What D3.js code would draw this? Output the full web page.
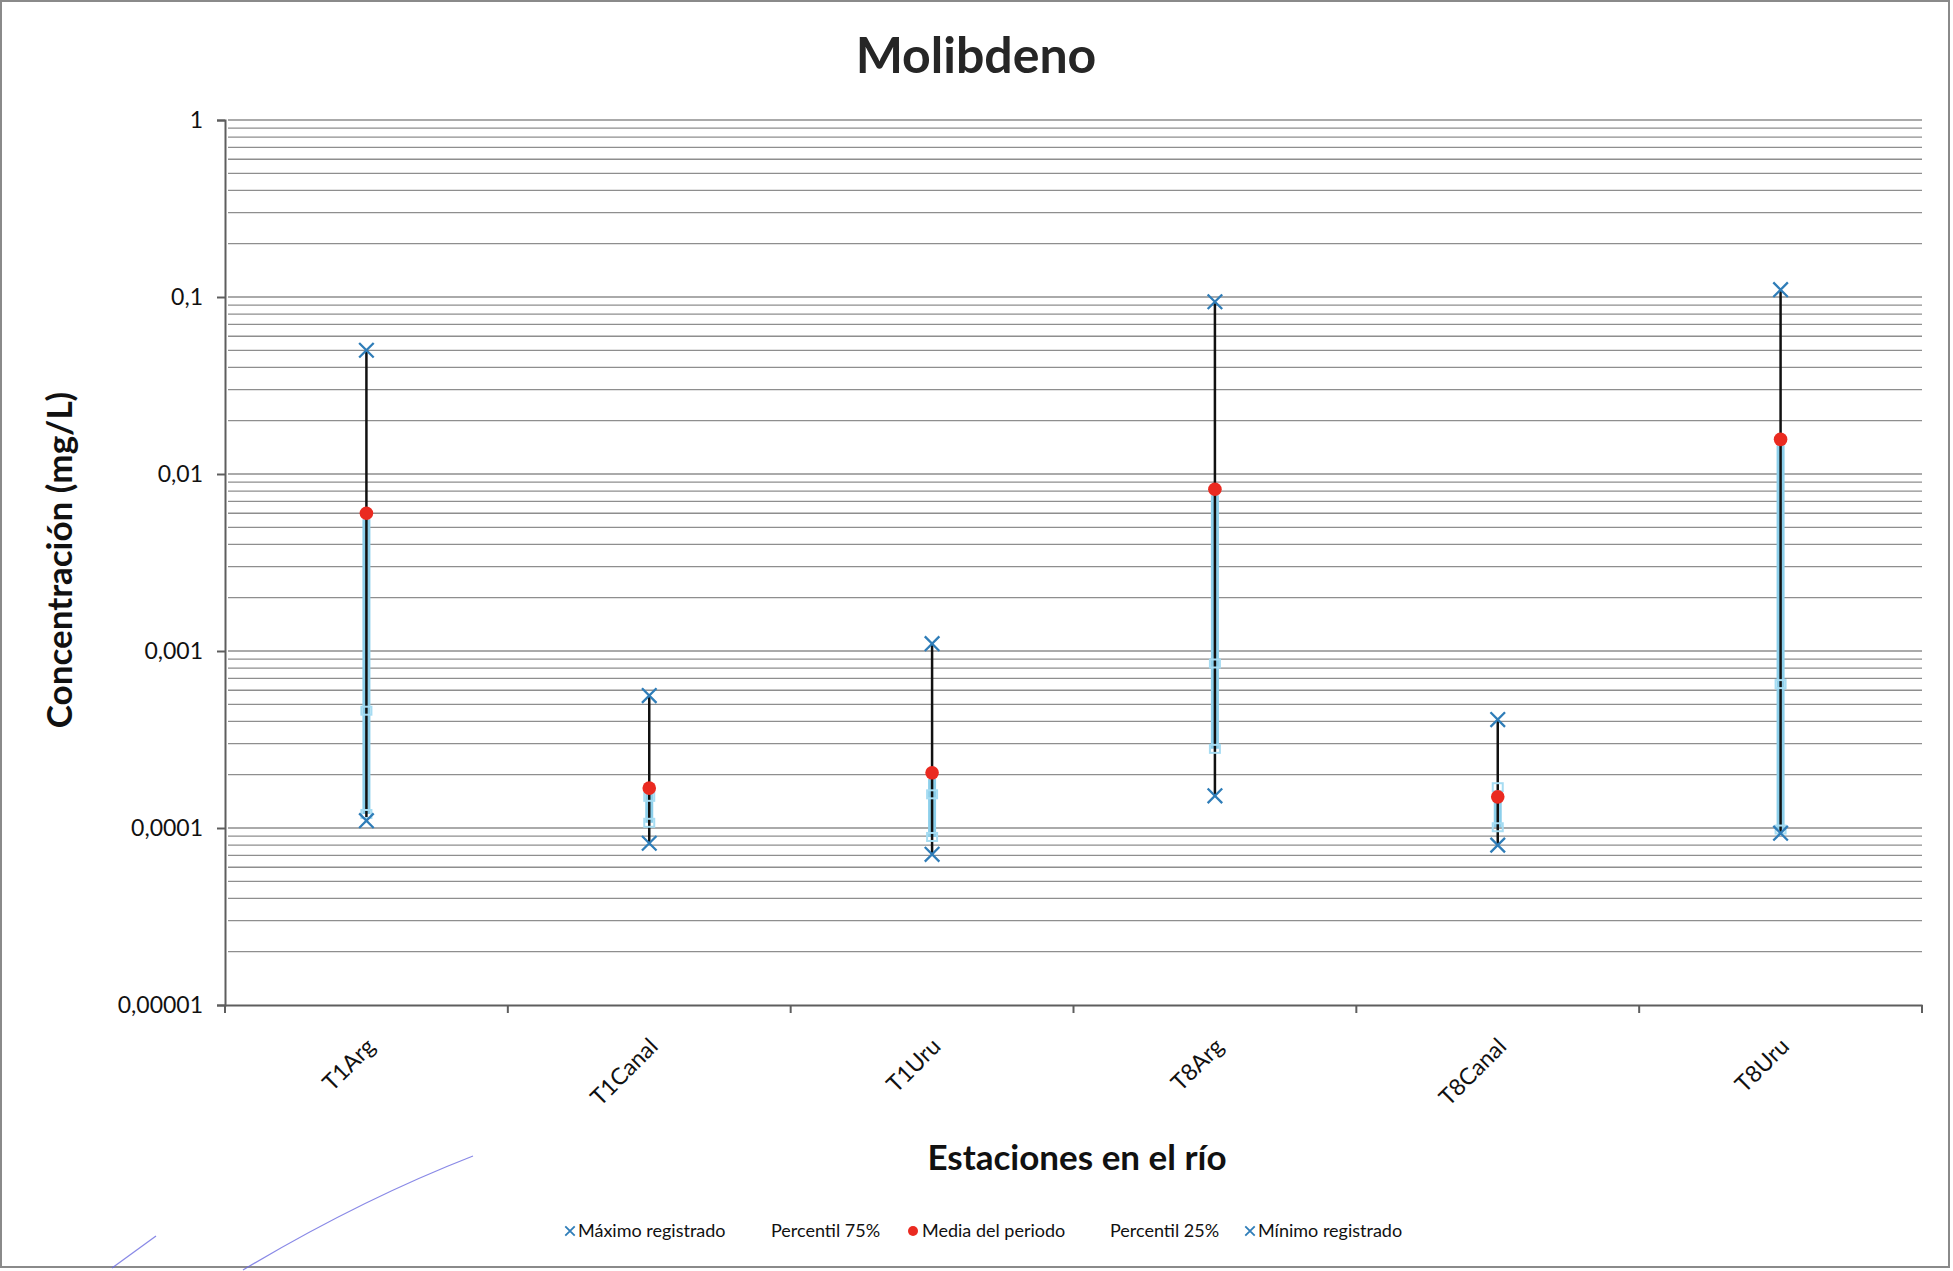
<!DOCTYPE html>
<html>
<head>
<meta charset="utf-8">
<title>Molibdeno</title>
<script src="https://cdn.jsdelivr.net/npm/d3@7"></script>
<style>
body { margin: 0; background: #fff; }
svg { display: block; font-family: Lato, "Open Sans", sans-serif; }
</style>
</head>
<body>
<script>
// datos (mg/L)
var categorias = ["T1Arg", "T1Canal", "T1Uru", "T8Arg", "T8Canal", "T8Uru"];
var maximo = [0.050, 0.00056, 0.0011, 0.094, 0.00041, 0.11];
var p75 = [0.00046, 0.00015, 0.000155, 0.00085, 0.00017, 0.00065];
var media = [0.0060, 0.000168, 0.000205, 0.0082, 0.00015, 0.0157];
var p25 = [0.00012, 0.000107, 0.000089, 0.00028, 0.000101, 0.000098];
var minimo = [0.00011, 0.000082, 0.000071, 0.000152, 0.00008, 0.0000935];
var decadas = [1e-5, 1e-4, 1e-3, 1e-2, 1e-1, 1];
var etiquetasY = ["0,00001", "0,0001", "0,001", "0,01", "0,1", "1"];
var leyenda = ["Máximo registrado", "Percentil 75%", "Media del periodo", "Percentil 25%", "Mínimo registrado"];

var width = 1953, height = 1271;
var mLeft = 225, mRight = 1922, mTop = 120, mBottom = 1005;

var svg = d3.select("body").append("svg")
	.attr("width", width)
	.attr("height", height);

// marco
svg.append("rect")
	.attr("x", 1).attr("y", 1)
	.attr("width", width - 5).attr("height", height - 5)
	.attr("fill", "none").attr("stroke", "#8a8a8a").attr("stroke-width", 2);

var x = d3.scaleBand().domain(categorias).range([mLeft, mRight]).padding(0);
var y = d3.scaleLog().domain([1e-5, 1]).range([mBottom, mTop]);

// lineas de division (mayores y menores)
var grid = [];
decadas.forEach(function(d) {
	for (var k = 1; k < 10; k++) {
		var v = d * k;
		if (v <= 1 && v > 1e-5) grid.push(v);
	}
});
svg.append("g").selectAll("line").data(grid).enter().append("line")
	.attr("x1", mLeft + 3).attr("x2", mRight)
	.attr("y1", function(d) { return y(d); })
	.attr("y2", function(d) { return y(d); })
	.attr("stroke", "#8e8e8e").attr("stroke-width", 1.3);

// eje Y
var ejeY = svg.append("g")
	.attr("transform", "translate(" + mLeft + ",0)")
	.call(d3.axisLeft(y).tickValues(decadas).tickSize(8).tickPadding(14)
		.tickFormat(function(d, i) { return etiquetasY[i]; }));
ejeY.select(".domain").attr("stroke", "#5e5e5e").attr("stroke-width", 2);
ejeY.selectAll(".tick line").attr("stroke", "#5e5e5e").attr("stroke-width", 2);
ejeY.selectAll("text").attr("font-size", 23).attr("fill", "#111")
	.style("font-family", "Lato, sans-serif");

// eje X
var ejeX = svg.append("g")
	.attr("transform", "translate(0," + mBottom + ")")
	.call(d3.axisBottom(x).tickSize(0).tickFormat(""));
ejeX.select(".domain").attr("stroke", "#5e5e5e").attr("stroke-width", 2);
var bordes = categorias.map(function(c) { return x(c); }).concat([mRight]);
svg.append("g").selectAll("line").data(bordes).enter().append("line")
	.attr("x1", function(d) { return d; }).attr("x2", function(d) { return d; })
	.attr("y1", mBottom).attr("y2", mBottom + 8)
	.attr("stroke", "#5e5e5e").attr("stroke-width", 2);
svg.append("g").selectAll("text").data(categorias).enter().append("text")
	.attr("transform", function(d) {
		return "translate(" + (x(d) + x.bandwidth() / 2 + 10) + "," + (mBottom + 43) + ") rotate(-45)";
	})
	.attr("text-anchor", "end")
	.attr("font-size", 23).attr("fill", "#111")
	.text(function(d) { return d; });

// series
var cx = function(i) { return x(categorias[i]) + x.bandwidth() / 2; };
var g = svg.append("g");
var idx = d3.range(categorias.length);

// tramo celeste entre percentiles y media
g.selectAll(".celeste").data(idx).enter().append("line")
	.attr("x1", cx).attr("x2", cx)
	.attr("y1", function(i) { return y(Math.max(p75[i], media[i])) + 6; })
	.attr("y2", function(i) { return y(p25[i]); })
	.attr("stroke", "#8ccfeb").attr("stroke-width", 8);

// linea max-min
g.selectAll(".hl").data(idx).enter().append("line")
	.attr("x1", cx).attr("x2", cx)
	.attr("y1", function(i) { return y(maximo[i]); })
	.attr("y2", function(i) { return y(minimo[i]); })
	.attr("stroke", "#111").attr("stroke-width", 2.5);

// percentiles
[p75, p25].forEach(function(serie) {
	g.selectAll(null).data(idx).enter().append("rect")
		.attr("x", function(i) { return cx(i) - 5; })
		.attr("y", function(i) { return y(serie[i]) - 4; })
		.attr("width", 10).attr("height", 8)
		.attr("fill", "none").attr("stroke", "#a6dcf2").attr("stroke-width", 2);
});

// maximo y minimo (cruces)
var cruz = d3.symbol().type(d3.symbolX).size(140);
[maximo, minimo].forEach(function(serie) {
	g.selectAll(null).data(idx).enter().append("path")
		.attr("d", cruz)
		.attr("transform", function(i) { return "translate(" + cx(i) + "," + y(serie[i]) + ")"; })
		.attr("fill", "none").attr("stroke", "#2f7db8").attr("stroke-width", 2.3);
});

// media
g.selectAll(".media").data(idx).enter().append("circle")
	.attr("cx", cx)
	.attr("cy", function(i) { return y(media[i]); })
	.attr("r", 6.8)
	.attr("fill", "#ea2a20");

// titulos
svg.append("text")
	.attr("x", 976).attr("y", 73)
	.attr("text-anchor", "middle")
	.attr("font-size", 50).attr("font-weight", "bold").attr("fill", "#262626")
	.text("Molibdeno");
svg.append("text")
	.attr("transform", "translate(72,560) rotate(-90)")
	.attr("text-anchor", "middle")
	.attr("font-size", 35).attr("font-weight", "bold").attr("fill", "#111")
	.text("Concentración (mg/L)");
svg.append("text")
	.attr("x", 1077).attr("y", 1170)
	.attr("text-anchor", "middle")
	.attr("font-size", 35).attr("font-weight", "bold").attr("fill", "#111")
	.text("Estaciones en el río");

// leyenda
var posLeyenda = [564, 771, 908, 1110, 1244];
var ley = svg.append("g").attr("font-size", 18).attr("fill", "#111");
leyenda.forEach(function(t, i) {
	var lx = posLeyenda[i], ly = 1231;
	if (i === 0 || i === 4) {
		ley.append("path").attr("d", d3.symbol().type(d3.symbolX).size(60))
			.attr("transform", "translate(" + (lx + 6) + "," + ly + ")")
			.attr("fill", "none").attr("stroke", "#2f7db8").attr("stroke-width", 1.8);
	}
	if (i === 2) {
		ley.append("circle").attr("cx", lx + 5).attr("cy", ly).attr("r", 5).attr("fill", "#ea2a20");
	}
	ley.append("text")
		.attr("x", (i === 1 || i === 3) ? lx : lx + 14)
		.attr("y", ly + 6)
		.text(t);
});

// trazo de firma en el escaneo
svg.append("path")
	.attr("d", "M243,1270 Q360,1200 473,1156")
	.attr("fill", "none").attr("stroke", "#6a6ae0").attr("stroke-width", 1.2).attr("opacity", 0.8);
svg.append("path")
	.attr("d", "M112,1268 L156,1236")
	.attr("fill", "none").attr("stroke", "#6a6ae0").attr("stroke-width", 1.2).attr("opacity", 0.8);
</script>
</body>
</html>
